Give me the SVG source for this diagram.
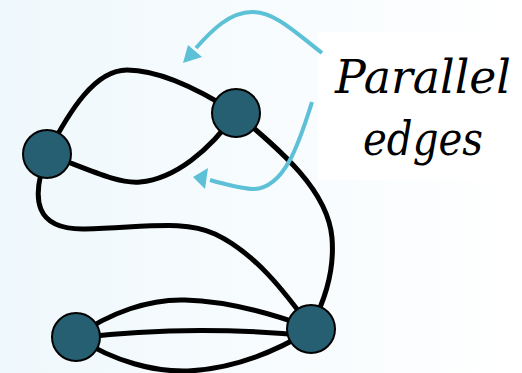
<svg xmlns="http://www.w3.org/2000/svg" width="522" height="373" viewBox="0 0 522 373">
  <defs>
    <linearGradient id="bg" x1="0" y1="0" x2="1" y2="0">
      <stop offset="0" stop-color="#eff8fc"/>
      <stop offset="1" stop-color="#ffffff"/>
    </linearGradient>
  </defs>
  <style>
    .edge { fill: none; stroke: #000; stroke-width: 5; stroke-linecap: round; }
    .node { fill: #265f72; stroke: #000; stroke-width: 2; }
    .pointer { fill: none; stroke: #5cc0d6; stroke-width: 4; }
    .tip { fill: #5cc0d6; }
    .label { font-family: "DejaVu Serif", "Liberation Serif", serif; font-style: italic; font-size: 47px; fill: #000; text-anchor: middle; }
  </style>

  <rect width="522" height="373" fill="url(#bg)"/>
  <rect x="318" y="32" width="204" height="148" fill="#ffffff"/>

  <g id="connectors">
    <!-- two parallel edges between the upper nodes -->
    <path class="edge" d="M47,154 C70,110 95,70 127,70 C160,70 200,90 236,113"/>
    <path class="edge" d="M47,154 C90,170 118,184 140,182 C175,179 210,150 236,113"/>
    <!-- long edge from the left node down to the lower right node -->
    <path class="edge" d="M47,154 C30,200 35,230 85,229 C150,227 185,220 215,234 C255,253 285,292 311,328"/>
    <!-- edge from the upper right node down to the lower right node -->
    <path class="edge" d="M236,113 C280,150 328,190 332,238 C335,275 322,305 311,328"/>
    <!-- three parallel edges between the lower nodes -->
    <path class="edge" d="M76,337 C110,312 150,299 185,300 C225,301 265,311 311,328"/>
    <path class="edge" d="M76,338 Q190,324 311,336"/>
    <path class="edge" d="M76,337 C115,362 155,372 188,371 C230,369 270,355 311,330"/>
  </g>

  <g id="pointers">
    <path class="pointer" d="M322,53 C295,32 275,12 252,12 C230,12 212,30 196,48"/>
    <path class="tip" d="M183,63 L188,45 L202,57 Z"/>
    <path class="pointer" d="M312,102 C300,140 285,190 252,189 C238,188 224,184 210,180"/>
    <path class="tip" d="M193,177 L208,168 L205,189 Z"/>
  </g>

  <g id="node-a"><circle class="node" cx="47" cy="154" r="24"/></g>
  <g id="node-b"><circle class="node" cx="236" cy="113" r="24"/></g>
  <g id="node-c"><circle class="node" cx="76" cy="337" r="24"/></g>
  <g id="node-d"><circle class="node" cx="311" cy="329" r="24"/></g>

  <g id="caption">
    <text class="label" x="423" y="93" textLength="176" lengthAdjust="spacingAndGlyphs">Parallel</text>
    <text class="label" x="423" y="155" textLength="120" lengthAdjust="spacingAndGlyphs">edges</text>
  </g>
</svg>
